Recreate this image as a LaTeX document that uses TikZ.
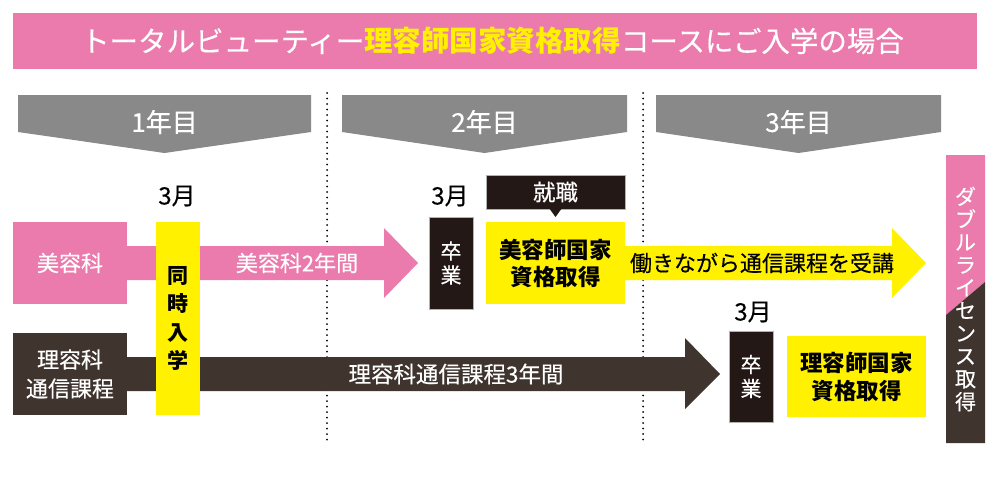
\documentclass[tikz,border=0pt]{standalone}
\usepackage{fontspec}
\setmainfont{Noto Sans CJK JP}[UprightFeatures={FakeBold=0.35}]
\definecolor{pinkc}{HTML}{EB7BAC}
\definecolor{yel}{HTML}{FFF100}
\definecolor{grayc}{HTML}{898989}
\definecolor{darkc}{HTML}{40342F}
\definecolor{blk}{HTML}{231815}
\newcommand{\fs}[2]{\fontsize{#1}{#2}\selectfont}
\tikzset{
  box/.style={inner sep=0pt, outer sep=0pt, align=center},
  dotline/.style={line width=2pt, dash pattern=on 0pt off 5.5pt, line cap=round, black},
  yearlbl/.style={text=white, font=\fs{26}{30}},
  monthlbl/.style={text=black, font=\fs{24}{28}},
}
\begin{document}
\begin{tikzpicture}[x=1pt,y=-1pt]
\useasboundingbox (0,0) rectangle (1000,490);
% title
\node[box, fill=pinkc, minimum width=964pt, minimum height=56pt] (titlebar) at (495,41) {};
\node[box, text=white, font=\fs{28.5}{32}] (title) at (492.5,41)
  {トータルビューティー\textcolor{yel}{\bfseries 理容師国家資格取得}コースにご入学の場合};
% year banners
\fill[grayc] (18,95) -- (311,95) -- (311,132) -- (164.5,153) -- (18,132) -- cycle;
\node[yearlbl] (y1) at (164.5,122) {1年目};
\fill[grayc] (342,95) -- (627,95) -- (627,132) -- (484.5,153) -- (342,132) -- cycle;
\node[yearlbl] (y2) at (484.5,122) {2年目};
\fill[grayc] (656,95) -- (941,95) -- (941,132) -- (798.5,153) -- (656,132) -- cycle;
\node[yearlbl] (y3) at (798.5,122) {3年目};
% dotted separators
\coordinate (d1t) at (327,93); \coordinate (d1b) at (327,440);
\coordinate (d2t) at (643,93); \coordinate (d2b) at (643,440);
\draw[dotline] (d1t) -- (d1b);
\draw[dotline] (d2t) -- (d2b);
% left boxes
\node[box, fill=pinkc, minimum width=114pt, minimum height=82pt, text=white, font=\fs{22}{26}] (bi) at (70,263) {美容科};
\node[box, fill=darkc, minimum width=114pt, minimum height=82pt, text=white, font=\fs{22}{29}] (ri) at (70,374) {理容科\\通信課程};
% pink arrow
\fill[pinkc] (bi.east |- 0,246) -- (384,246) -- (384,228) -- (418,263) -- (384,298) -- (384,280) -- (bi.east |- 0,280) -- cycle;
\node[text=white, font=\fs{22}{26}] (bilbl) at (297,263) {美容科2年間};
% dark arrow
\fill[darkc] (ri.east |- 0,357) -- (685,357) -- (685,338) -- (720,374) -- (685,409) -- (685,391) -- (ri.east |- 0,391) -- cycle;
\node[text=white, font=\fs{22.5}{26}] (rilbl) at (456,374) {理容科通信課程3年間};
% simultaneous admission
\node[box, fill=yel, minimum width=44pt, minimum height=193pt, font=\bfseries\fs{21}{28.5}] (doji) at (178,318.5) {同\\時\\入\\学};
\node[monthlbl] (m1) at (177,196) {3月};
% year 2
\node[monthlbl] (m2) at (450,196) {3月};
\node[box, fill=blk, draw=gray!60, line width=0.6pt, minimum width=44pt, minimum height=92pt, text=white, font=\fs{21}{24}] (sot1) at (451,263) {卒\\業};
\node[box, fill=blk, draw=gray!60, line width=0.6pt, minimum width=139pt, minimum height=34pt, text=white, font=\fs{22.5}{26}] (shu) at (555.5,192) {就職};
\fill[blk] (549.5,208.7) -- (561.5,208.7) -- (555.5,217) -- cycle;
\node[box, fill=yel, minimum width=139pt, minimum height=82pt, font=\bfseries\fs{22.5}{27}] (bkoku) at (555.5,263) {美容師国家\\資格取得};
% yellow arrow
\fill[yel] (bkoku.east |- 0,246) -- (892,246) -- (892,228) -- (926,263) -- (892,298) -- (892,280) -- (bkoku.east |- 0,280) -- cycle;
\node[text=black, font=\fs{22}{26}] (yellbl) at (762,263) {働きながら通信課程を受講};
% year 3
\node[monthlbl] (m3) at (753,312) {3月};
\node[box, fill=blk, draw=gray!60, line width=0.6pt, minimum width=44pt, minimum height=91pt, text=white, font=\fs{21}{24}] (sot2) at (751,376.5) {卒\\業};
\node[box, fill=yel, minimum width=139pt, minimum height=81pt, font=\bfseries\fs{22.5}{28}] (rkoku) at (856.5,376.5) {理容師国家\\資格取得};
% double license column
\fill[pinkc] (946,155) -- (985,155) -- (985,282) -- (946,315) -- cycle;
\fill[darkc] (946,315) -- (985,282) -- (985,443) -- (946,443) -- cycle;
\node[box, text=white, font=\fs{21}{22.8}] (dbl) at (965.5,299) {ダ\\ブ\\ル\\ラ\\イ\\セ\\ン\\ス\\取\\得};
\end{tikzpicture}
\end{document}
